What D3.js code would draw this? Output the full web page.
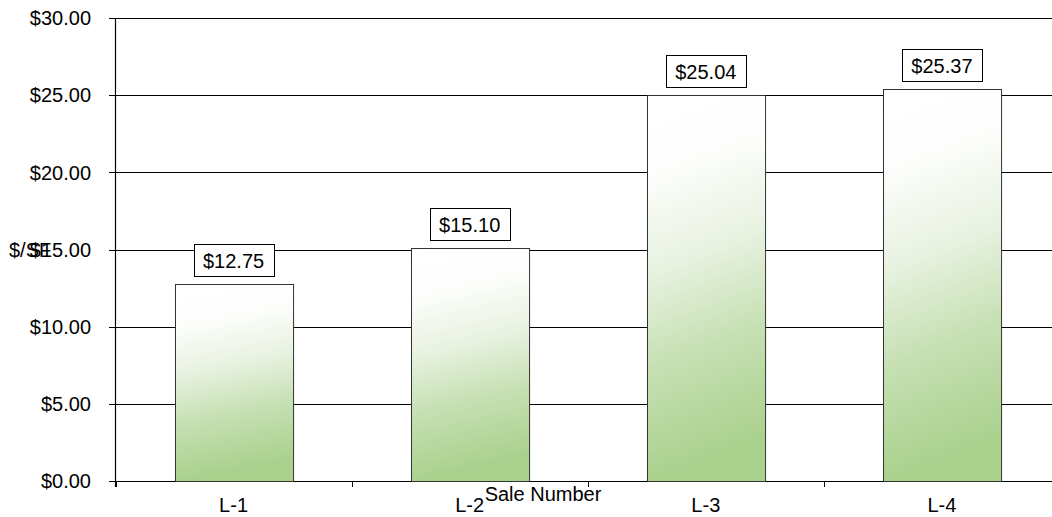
<!DOCTYPE html>
<html>
<head>
<meta charset="utf-8">
<script src="https://cdn.jsdelivr.net/npm/d3@7"></script>
<style>
  html, body { margin: 0; padding: 0; background: #fff; }
  svg { display: block; }
  text { font-family: "Liberation Sans", Arial, sans-serif; fill: #000; }
</style>
</head>
<body>
<svg id="chart" width="1052" height="517"></svg>
<script>
const categories = ["L-1", "L-2", "L-3", "L-4"];
const values = [12.75, 15.10, 25.04, 25.37];
const valueLabels = ["$12.75", "$15.10", "$25.04", "$25.37"];
const yTicks = [0, 5, 10, 15, 20, 25, 30];
const yTickLabels = ["$0.00", "$5.00", "$10.00", "$15.00", "$20.00", "$25.00", "$30.00"];
const xTitle = "Sale Number";
const yTitle = "$/SF";

const svg = d3.select("#chart");
const pLeft = 115.5, pRight = 1060, pTop = 18, pBottom = 481;
const fs = "20px";

const x = d3.scaleBand().domain(categories).range([pLeft, pRight]).paddingInner(0.5).paddingOuter(0.25);
const y = d3.scaleLinear().domain([0, 30]).range([pBottom, pTop]);

const defs = svg.append("defs");
const grad = defs.append("linearGradient").attr("id", "barGrad")
  .attr("x1", "0").attr("y1", "0").attr("x2", "0.12").attr("y2", "1");
grad.append("stop").attr("offset", "0").attr("stop-color", "#ffffff");
grad.append("stop").attr("offset", "0.2").attr("stop-color", "#fdfefc");
grad.append("stop").attr("offset", "0.45").attr("stop-color", "#e8f2e1");
grad.append("stop").attr("offset", "0.7").attr("stop-color", "#c6e0b3");
grad.append("stop").attr("offset", "1").attr("stop-color", "#a9d08c");

// gridlines
svg.append("g").selectAll("line").data(yTicks).join("line")
  .attr("x1", 109).attr("x2", 1052)
  .attr("y1", d => Math.round(y(d)) + 0.5).attr("y2", d => Math.round(y(d)) + 0.5)
  .attr("stroke", "#000").attr("stroke-width", 1);

// bars
svg.append("g").selectAll("rect").data(values).join("rect")
  .attr("x", (d, i) => Math.round(x(categories[i])) + 0.5)
  .attr("y", d => Math.round(y(d)) + 0.5)
  .attr("width", x.bandwidth())
  .attr("height", d => Math.round(y(0)) - Math.round(y(d)))
  .attr("fill", "url(#barGrad)")
  .attr("stroke", "#333").attr("stroke-width", 1);

// y axis line
svg.append("line").attr("x1", pLeft).attr("x2", pLeft).attr("y1", pTop).attr("y2", pBottom + 6)
  .attr("stroke", "#000").attr("stroke-width", 1.2);

// x category ticks (boundaries)
const step = x.step();
const bounds = d3.range(categories.length + 1).map(i => pLeft + i * step);
svg.append("g").selectAll("line").data(bounds).join("line")
  .attr("x1", d => Math.round(d) + 0.5).attr("x2", d => Math.round(d) + 0.5)
  .attr("y1", pBottom).attr("y2", pBottom + 6)
  .attr("stroke", "#000");

// y tick labels
svg.append("g").selectAll("text").data(yTicks).join("text")
  .attr("x", 91).attr("y", d => y(d))
  .attr("dy", "0.36em").attr("text-anchor", "end")
  .style("font-size", fs)
  .text((d, i) => yTickLabels[i]);

// x labels
svg.append("g").selectAll("text").data(categories).join("text")
  .attr("x", d => x(d) + x.bandwidth() / 2).attr("y", 512)
  .attr("text-anchor", "middle").style("font-size", fs)
  .text(d => d);

// data labels
const lab = svg.append("g").selectAll("g").data(values).join("g");
lab.append("rect")
  .attr("x", (d, i) => Math.round(x(categories[i]) + x.bandwidth() / 2 - 40) + 0.5)
  .attr("y", d => Math.round(y(d)) - 39.5)
  .attr("width", 80).attr("height", 32)
  .attr("fill", "#fff").attr("stroke", "#000").attr("stroke-width", 1);
lab.append("text")
  .attr("x", (d, i) => x(categories[i]) + x.bandwidth() / 2)
  .attr("y", d => Math.round(y(d)) - 23)
  .attr("dy", "0.36em").attr("text-anchor", "middle").style("font-size", fs)
  .text((d, i) => valueLabels[i]);

// axis titles
svg.append("text").attr("x", 543).attr("y", 501).attr("text-anchor", "middle")
  .style("font-size", fs).text(xTitle);
svg.append("text").attr("x", 9).attr("y", y(15)).attr("dy", "0.36em")
  .style("font-size", fs).text(yTitle);
</script>
</body>
</html>
